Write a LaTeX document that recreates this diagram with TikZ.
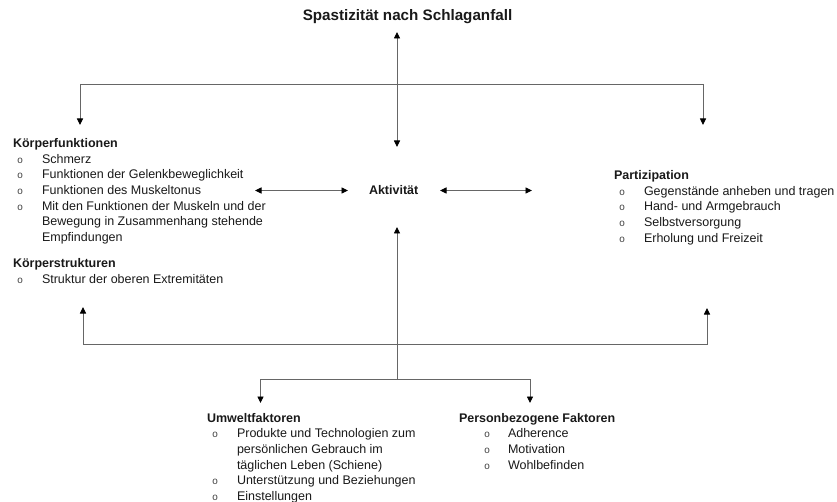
\documentclass[tikz,border=0pt]{standalone}
\usepackage{fontspec}
\setmainfont{Liberation Sans}
\newfontfamily\bulfam{Liberation Mono}
\usetikzlibrary{arrows.meta}
\newcommand\bul{{\bulfam\fontsize{10}{10}\selectfont\color{black!75}o}}
% bullet line: #1 bullet left offset, #2 text offset, #3 text
\newcommand\bline[3]{\hbox{\makebox[#2][l]{\hspace*{#1}\bul}#3}}
\newcommand\contline[2]{\hbox{\hspace*{#1}#2}}
\newcommand\hdline[1]{\hbox{\bfseries #1}}
\newcommand\blk[1]{\vtop{\fontsize{12.5}{15.7}\selectfont\baselineskip=15.7pt\lineskiplimit=-30pt\lineskip=0pt #1}}
\begin{document}
\begin{tikzpicture}[x=1pt,y=-1pt,
  txt/.style={anchor=base west,inner sep=0pt,outer sep=0pt,text=black!90},
  con/.style={draw=black!60,line width=0.9pt},
  tip/.style={-{Triangle[width=6pt,length=6.5pt,color=black]}},
  tips/.style={{Triangle[width=6pt,length=6.5pt,color=black]}-{Triangle[width=6pt,length=6.5pt,color=black]}}]
\useasboundingbox (0,0) rectangle (837,502);

% title
\node[txt,anchor=base,font=\fontsize{15.2}{18}\selectfont\bfseries] (title) at (407.5,21) {Spastizität nach Schlaganfall};

% Aktivität
\node[txt,font=\fontsize{12.5}{15}\selectfont\bfseries] (akt) at (369,194.5) {Aktivität};

% Körperfunktionen
\node[txt] (kf) at (13,147.5) {\blk{%
  \hdline{Körperfunktionen}%
  \bline{4.2pt}{29pt}{Schmerz}%
  \bline{4.2pt}{29pt}{Funktionen der Gelenkbeweglichkeit}%
  \bline{4.2pt}{29pt}{Funktionen des Muskeltonus}%
  \bline{4.2pt}{29pt}{Mit den Funktionen der Muskeln und der}%
  \contline{29pt}{Bewegung in Zusammenhang stehende}%
  \contline{29pt}{Empfindungen}}};

% Körperstrukturen
\node[txt] (ks) at (13,267.5) {\blk{%
  \hdline{Körperstrukturen}%
  \bline{4.2pt}{29pt}{Struktur der oberen Extremitäten}}};

% Partizipation
\node[txt] (pa) at (614,179.5) {\blk{%
  \hdline{Partizipation}%
  \bline{5.2pt}{30pt}{Gegenstände anheben und tragen}%
  \bline{5.2pt}{30pt}{Hand- und Armgebrauch}%
  \bline{5.2pt}{30pt}{Selbstversorgung}%
  \bline{5.2pt}{30pt}{Erholung und Freizeit}}};

% Umweltfaktoren
\node[txt] (uw) at (207,422) {\blk{%
  \hdline{Umweltfaktoren}%
  \bline{5.2pt}{30pt}{Produkte und Technologien zum}%
  \contline{30pt}{persönlichen Gebrauch im}%
  \contline{30pt}{täglichen Leben (Schiene)}%
  \bline{5.2pt}{30pt}{Unterstützung und Beziehungen}%
  \bline{5.2pt}{30pt}{Einstellungen}}};

% Personbezogene Faktoren
\node[txt] (pf) at (459,422) {\blk{%
  \hdline{Personbezogene Faktoren}%
  \bline{25.2pt}{49pt}{Adherence}%
  \bline{25.2pt}{49pt}{Motivation}%
  \bline{25.2pt}{49pt}{Wohlbefinden}}};

% connector coordinates
\coordinate (tUp) at (397,32);
\coordinate (tDown) at (397,147);
\coordinate (hL) at (80,84);
\coordinate (hR) at (703,84);
\coordinate (kfTop) at (80,125);
\coordinate (paTop) at (703,125);
\coordinate (lA) at (255,190.5);
\coordinate (lB) at (348,190.5);
\coordinate (rA) at (440,190.5);
\coordinate (rB) at (532,190.5);
\coordinate (aUp) at (397,227);
\coordinate (aBot) at (397,379);
\coordinate (bL) at (83,344.5);
\coordinate (bR) at (707,344.5);
\coordinate (bLup) at (83,307);
\coordinate (bRup) at (707,308);
\coordinate (uL) at (260.5,379);
\coordinate (uR) at (530,379);
\coordinate (uwTop) at (260.5,403);
\coordinate (pfTop) at (530,403);

% top structure
\draw[con,tips] (tUp) -- (tDown);
\draw[con,tip] (hL) -- (kfTop);
\draw[con,tip] (hR) -- (paTop);
\draw[con] (hL) -- (hR);
% horizontal double arrows
\draw[con,tips] (lA) -- (lB);
\draw[con,tips] (rA) -- (rB);
% bottom structure
\draw[con,tip] (aBot) -- (aUp);
\draw[con] (bL) -- (bR);
\draw[con,tip] (bL) -- (bLup);
\draw[con,tip] (bR) -- (bRup);
\draw[con] (uL) -- (uR);
\draw[con,tip] (uL) -- (uwTop);
\draw[con,tip] (uR) -- (pfTop);
\end{tikzpicture}
\end{document}
